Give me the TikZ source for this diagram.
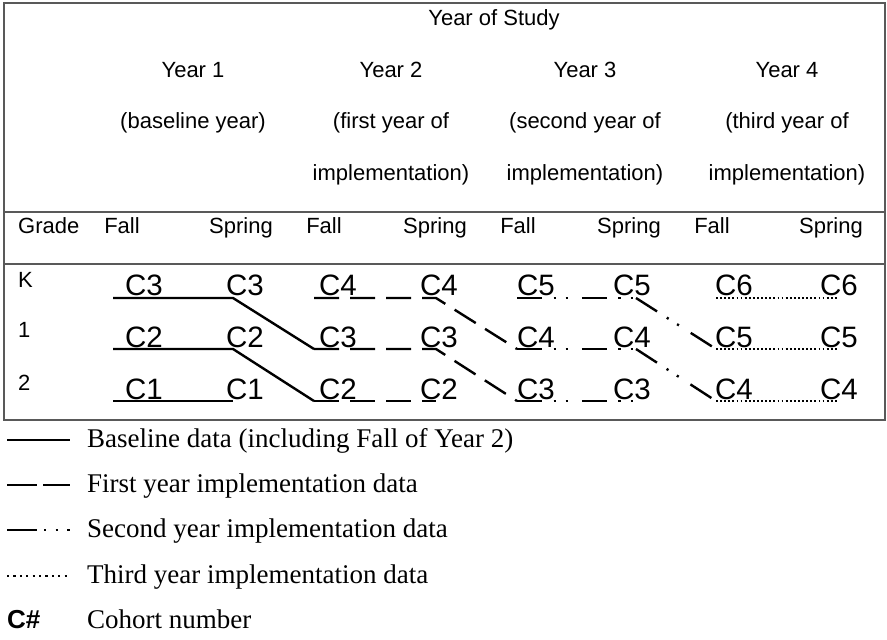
\documentclass[tikz,border=0pt]{standalone}
\usepackage{fontspec}
\newfontfamily\tabfont{Liberation Sans}
\newfontfamily\legfont{Liberation Serif}

\tikzset{
	hdr/.style={font=\tabfont\fontsize{22}{26}\selectfont, inner sep=0pt, anchor=base},
	coh/.style={font=\tabfont\fontsize{29.5}{34}\selectfont, inner sep=0pt, anchor=base},
	leg/.style={font=\legfont\fontsize{27}{32}\selectfont, inner sep=0pt, anchor=base west},
	rule/.style={draw=black!65, line width=1.6pt},
	solidln/.style={line width=2.4pt},
	firstln/.style={line width=2.4pt, dash pattern=on 25pt off 11pt},
	secondln/.style={line width=2.4pt,
		dash pattern=on 25pt off 11.5pt on 2.2pt off 10pt on 2.2pt off 14pt},
	thirdln/.style={line width=2.2pt, dash pattern=on 1.8pt off 2.3pt},
}

\begin{document}
\begin{tikzpicture}[
	x=1pt,
	y=-1pt] {

\useasboundingbox (0,0) rectangle (887,640);

% table frame
\coordinate (tl) at (4,3);
\coordinate (br) at (885,420);
\draw[rule] (tl) rectangle (br);
\draw[rule] (4,212) -- (885,212);
\draw[rule] (4,264) -- (885,264);

% header (years of study)
\node[hdr] (study) at (494,25) {Year of Study};
\node[hdr] (yr1) at (193,77) {Year 1};
\node[hdr] (yr2) at (391,77) {Year 2};
\node[hdr] (yr3) at (585,77) {Year 3};
\node[hdr] (yr4) at (787,77) {Year 4};
\node[hdr] (yr1a) at (193,128) {(baseline year)};
\node[hdr] (yr2a) at (391,128) {(first year of};
\node[hdr] (yr3a) at (585,128) {(second year of};
\node[hdr] (yr4a) at (787,128) {(third year of};
\node[hdr] (yr2b) at (391,180) {implementation)};
\node[hdr] (yr3b) at (585,180) {implementation)};
\node[hdr] (yr4b) at (787,180) {implementation)};

% grade / semester row
\node[hdr,anchor=base west] (grade) at (18,233) {Grade};
\foreach \i/\xf/\xs in {1/122/241,2/324/435,3/518/629,4/712/831} {
	\node[hdr] (fall\i) at (\xf,233) {Fall};
	\node[hdr] (spr\i) at (\xs,233) {Spring};
}

% grades
\node[hdr,anchor=base west] (gk) at (18,287) {K};
\node[hdr,anchor=base west] (g1) at (18,337) {1};
\node[hdr,anchor=base west] (g2) at (18,390) {2};

% cohorts
\foreach \r/\yb/\b in {0/295/3,1/347/2,2/399/1}
	\foreach \c/\x in {0/144,1/245,2/338,3/439,4/536,5/632,6/734,7/839} {
		\pgfmathtruncatemacro\n{\b+int(\c/2)}
		\node[coh] (c\r\c) at (\x,\yb) {C\n};
	}

% points of the cohort lines
\foreach \r/\y in {0/298,1/349,2/401}
	\foreach \c/\x in {0/113,1/233,2/314,3/436,4/517,5/636,6/716,7/838}
		\coordinate (p\r\c) at (\x,\y);

% baseline data
\draw[solidln] (p00) -- (p01) -- (p12);
\draw[solidln] (p10) -- (p11) -- (p22);
\draw[solidln] (p20) -- (p21);

% first year
\draw[firstln] (p02) -- (p03) -- (p14);
\draw[firstln] (p12) -- (p13) -- (p24);
\draw[firstln] (p22) -- (p23);

% second year
\draw[secondln] (p04) -- (p05);
\draw[secondln] (p05) -- (p16);
\draw[secondln] (p14) -- (p15);
\draw[secondln] (p15) -- (p26);
\draw[secondln] (p24) -- (p25);

% third year
\draw[thirdln] (p06) -- (p07);
\draw[thirdln] (p16) -- (p17);
\draw[thirdln] (p26) -- (p27);

% legend
\foreach \i/\y in {0/440,1/485,2/530,3/576} {
	\coordinate (ls\i) at (7,\y);
	\coordinate (le\i) at (70,\y);
}
\draw[solidln] (ls0) -- (le0);
\draw[line width=2.4pt, dash pattern=on 30pt off 6pt] (ls1) -- (le1);
\draw[line width=2.4pt,
	dash pattern=on 30pt off 7pt on 2.2pt off 9.5pt on 2.2pt off 9.5pt on 2.2pt]
	(ls2) -- (le2);
\draw[line width=2.2pt, dash pattern=on 2.2pt off 4.2pt] (ls3) -- (le3);

\node[leg] (lbase) at (87,447) {Baseline data (including Fall of Year 2)};
\node[leg] (lfirst) at (87,492) {First year implementation data};
\node[leg] (lsecond) at (87,537) {Second year implementation data};
\node[leg] (lthird) at (87,583) {Third year implementation data};
\node[leg,font=\tabfont\bfseries\fontsize{26}{30}\selectfont] (lcnum) at (7,628) {C\#};
\node[leg] (lcohort) at (87,628) {Cohort number};
}\end{tikzpicture}
\end{document}
